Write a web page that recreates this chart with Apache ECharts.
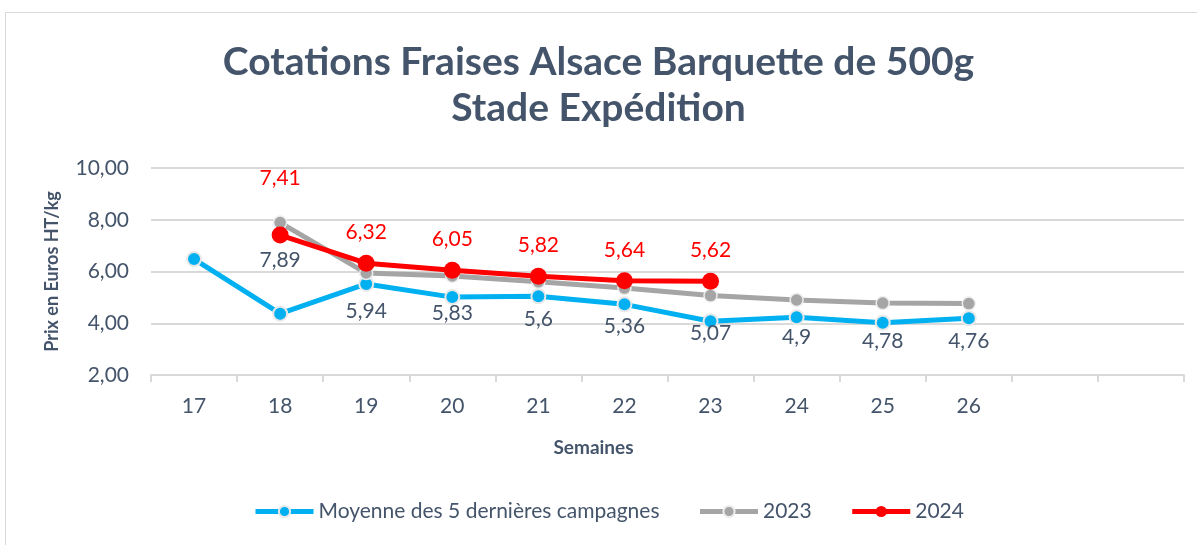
<!DOCTYPE html>
<html>
<head>
<meta charset="utf-8">
<script src="https://cdn.jsdelivr.net/npm/echarts@6/dist/echarts.min.js"></script>
<style>
html, body { margin: 0; padding: 0; background: #fff; }
#frame { position: absolute; left: 5px; top: 12px; width: 1200px; height: 540px; border: 1px solid #D9D9D9; }
#chart { position: absolute; left: 0; top: 0; width: 1197px; height: 545px; }
</style>
</head>
<body>
<div id="frame"></div>
<div id="chart"></div>
<script>
// semaines (2 cases vides a droite comme dans l'original)
var semaines = ['17', '18', '19', '20', '21', '22', '23', '24', '25', '26', '', ''];
var moyenne = [6.48, 4.37, 5.52, 5.01, 5.04, 4.73, 4.08, 4.23, 4.02, 4.19];
var prix2023 = [null, 7.89, 5.94, 5.83, 5.6, 5.36, 5.07, 4.9, 4.78, 4.76];
var prix2024 = [null, 7.41, 6.32, 6.05, 5.82, 5.64, 5.62];
var yTicks = [2, 4, 6, 8, 10];

var txtColor = '#44546A';
var font = 'Lato';

function virgule(v) {
	return String(v).replace('.', ',');
}

var myChart = echarts.init(document.getElementById('chart'));

// 2024 : premier label remonte un peu plus haut
var data2024 = prix2024.map(function (v, i) {
	if (i == 1) {
		return { value: v, label: { distance: 38 } };
	}
	return v;
});

var option = {
	animation: false,
	textStyle: { fontFamily: font },
	title: {
		text: 'Cotations Fraises Alsace Barquette de 500g\nStade Expédition',
		left: 'center',
		top: 34,
		textStyle: {
			fontFamily: font,
			fontSize: 39,
			fontWeight: 'bold',
			color: txtColor,
			lineHeight: 46
		}
	},
	legend: {
		bottom: 18,
		left: 248,
		itemWidth: 58,
		itemHeight: 14,
		itemGap: 38,
		lineStyle: { width: 5 },
		textStyle: { fontSize: 21, color: txtColor, fontFamily: font },
		data: ['Moyenne des 5 dernières campagnes', '2023', '2024']
	},
	grid: {
		left: 151,
		right: 13,
		top: 168,
		bottom: 170
	},
	xAxis: {
		type: 'category',
		data: semaines,
		boundaryGap: true,
		name: 'Semaines',
		nameLocation: 'middle',
		nameGap: 63,
		nameTextStyle: { fontSize: 19, fontWeight: 'bold', color: txtColor, fontFamily: font, padding: [0, 148, 0, 0] },
		axisLine: { lineStyle: { color: '#D9D9D9', width: 2 } },
		axisTick: { show: true, length: 7, lineStyle: { color: '#D9D9D9', width: 2 } },
		axisLabel: { fontSize: 21, color: txtColor, margin: 21 }
	},
	yAxis: {
		type: 'value',
		min: 2,
		max: 10,
		interval: 2,
		name: 'Prix en Euros HT/kg',
		nameLocation: 'middle',
		nameGap: 90,
		nameTextStyle: { fontSize: 18, fontWeight: 'bold', color: txtColor, fontFamily: font },
		axisLine: { show: false },
		axisTick: { show: false },
		axisLabel: {
			fontSize: 21,
			color: txtColor,
			margin: 22,
			formatter: function (v) { return v.toFixed(2).replace('.', ','); }
		},
		splitLine: { lineStyle: { color: '#D9D9D9', width: 2 } }
	},
	series: [
		{
			name: 'Moyenne des 5 dernières campagnes',
			type: 'line',
			data: moyenne,
			symbol: 'circle',
			symbolSize: 14,
			lineStyle: { color: '#00B0F0', width: 5 },
			itemStyle: { color: '#00B0F0', borderColor: '#E8E8E8', borderWidth: 2 },
			z: 2
		},
		{
			name: '2023',
			type: 'line',
			data: prix2023,
			symbol: 'circle',
			symbolSize: 13,
			lineStyle: { color: '#A5A5A5', width: 5 },
			itemStyle: { color: '#A5A5A5', borderColor: '#EDEDED', borderWidth: 1.5 },
			label: {
				show: true,
				position: 'bottom',
				distance: 20,
				fontSize: 21,
				color: txtColor,
				formatter: function (p) { return virgule(p.value); }
			},
			z: 3
		},
		{
			name: '2024',
			type: 'line',
			data: data2024,
			symbol: 'circle',
			symbolSize: 17,
			lineStyle: { color: '#FF0000', width: 5 },
			itemStyle: { color: '#FF0000' },
			label: {
				show: true,
				position: 'top',
				distance: 12,
				fontSize: 21,
				color: '#FF0000',
				formatter: function (p) { return virgule(p.value); }
			},
			z: 4
		}
	]
};

myChart.setOption(option);
</script>
</body>
</html>
